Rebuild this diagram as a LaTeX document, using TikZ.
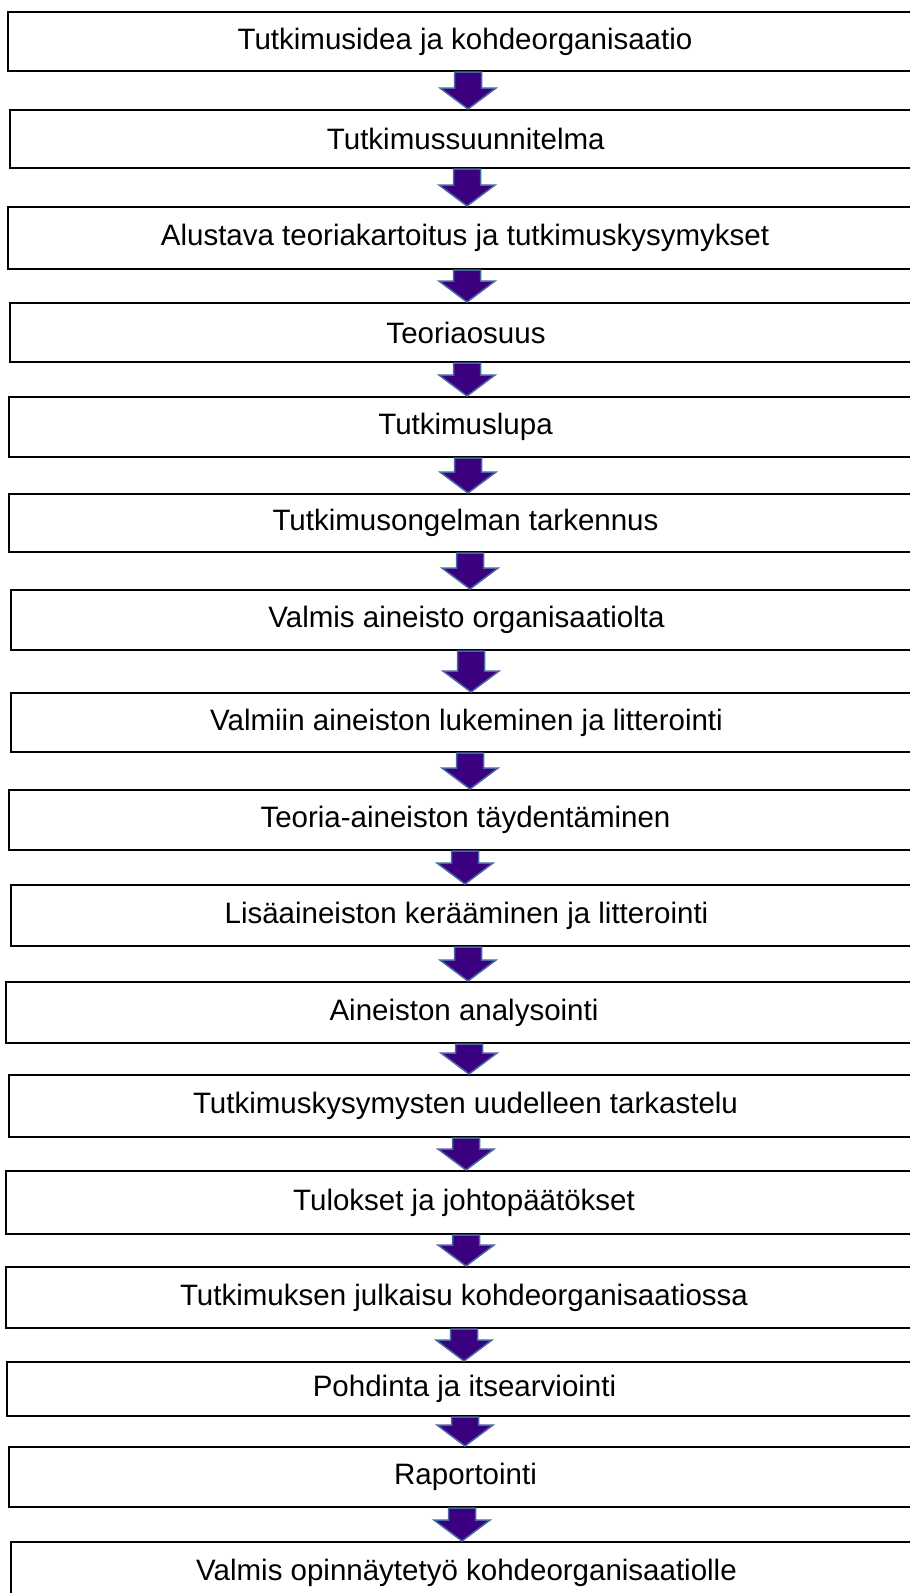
\documentclass[tikz,border=0pt]{standalone}
\usepackage{fontspec}
\setmainfont{Liberation Sans}
\usetikzlibrary{calc}
\definecolor{arrfill}{RGB}{58,0,128}
\definecolor{arrline}{RGB}{72,104,164}
\tikzset{
  stepbox/.style={draw=black, line width=2pt, fill=white, inner sep=0pt,
    font=\fontsize{29.5}{35}\selectfont, text=black},
  flowarrow/.style={fill=arrfill, draw=arrline, line width=1.5pt, line join=miter}
}
\newcommand\stepnode[5]{%
  \node[stepbox, minimum width={(922-#2)*1pt}, minimum height={(#4-#3)*1pt}]
    (#1) at ({(#2+922)/2},{(#3+#4)/2+1}) {#5};}
\newcommand\flowarr[3]{%
  \path[flowarrow] let \p1=(#1.south), \p2=(#2.north) in
    ({#3pt-13.5pt},\y1) -- ({#3pt+13.5pt},\y1) -- ({#3pt+13.5pt},{\y2+21pt})
    -- ({#3pt+28pt},{\y2+21pt}) -- (#3pt,\y2) -- ({#3pt-28pt},{\y2+21pt})
    -- ({#3pt-13.5pt},{\y2+21pt}) -- cycle;}
\begin{document}
\begin{tikzpicture}[x=1pt,y=-1pt]
\useasboundingbox (0,0) rectangle (910,1593);
\clip (0,0) rectangle (910,1593);
\fill[white] (0,0) rectangle (910,1593);
\stepnode{b1}{8}{11}{70}{Tutkimusidea ja kohdeorganisaatio}
\stepnode{b2}{9.5}{109}{167}{Tutkimussuunnitelma}
\stepnode{b3}{8}{206}{268}{Alustava teoriakartoitus ja tutkimuskysymykset}
\stepnode{b4}{10}{302}{361}{Teoriaosuus}
\stepnode{b5}{9}{396}{456}{Tutkimuslupa}
\stepnode{b6}{9}{493}{551}{Tutkimusongelman tarkennus}
\stepnode{b7}{11}{589}{649}{Valmis aineisto organisaatiolta}
\stepnode{b8}{11}{692}{751}{Valmiin aineiston lukeminen ja litterointi}
\stepnode{b9}{9}{789}{849}{Teoria-aineiston täydentäminen}
\stepnode{b10}{11}{884}{945}{Lisäaineiston kerääminen ja litterointi}
\stepnode{b11}{6}{981}{1042}{Aineiston analysointi}
\stepnode{b12}{9}{1074}{1136}{Tutkimuskysymysten uudelleen tarkastelu}
\stepnode{b13}{6}{1170}{1233}{Tulokset ja johtopäätökset}
\stepnode{b14}{6}{1266}{1327}{Tutkimuksen julkaisu kohdeorganisaatiossa}
\stepnode{b15}{7}{1361}{1415}{Pohdinta ja itsearviointi}
\stepnode{b16}{9}{1446}{1506}{Raportointi}
\stepnode{b17}{11}{1541}{1603}{Valmis opinnäytetyö kohdeorganisaatiolle}
\flowarr{b1}{b2}{468}
\flowarr{b2}{b3}{467}
\flowarr{b3}{b4}{467}
\flowarr{b4}{b5}{467}
\flowarr{b5}{b6}{468}
\flowarr{b6}{b7}{470}
\flowarr{b7}{b8}{471}
\flowarr{b8}{b9}{470}
\flowarr{b9}{b10}{465}
\flowarr{b10}{b11}{468}
\flowarr{b11}{b12}{469}
\flowarr{b12}{b13}{466}
\flowarr{b13}{b14}{466}
\flowarr{b14}{b15}{464}
\flowarr{b15}{b16}{465}
\flowarr{b16}{b17}{462}
\end{tikzpicture}
\end{document}
